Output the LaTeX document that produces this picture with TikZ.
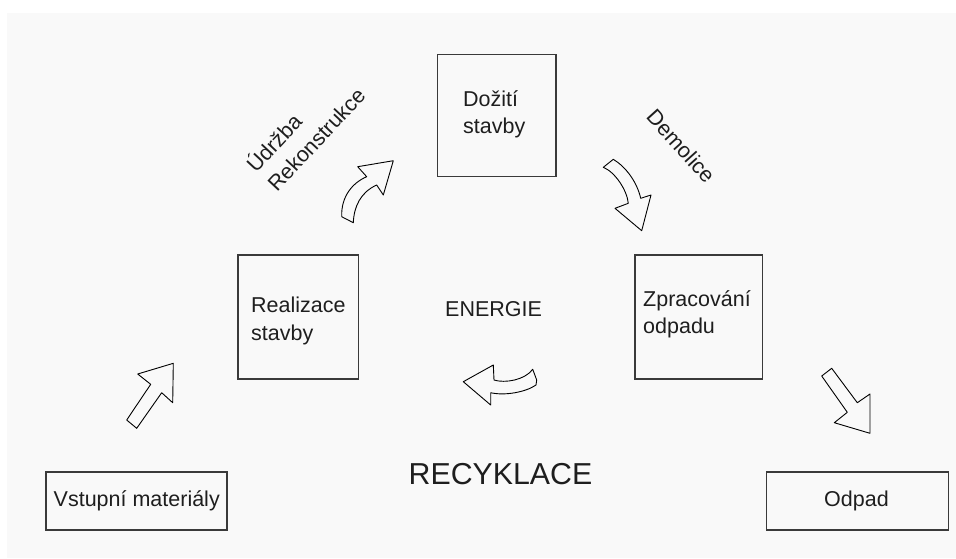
\documentclass[tikz,border=0pt]{standalone}
\usepackage{fontspec}
\setmainfont{Liberation Sans}
\definecolor{bg}{HTML}{F9F9F9}
\definecolor{boxc}{HTML}{3A3A3A}
\definecolor{txt}{HTML}{1E1E1E}
\begin{document}
\begin{tikzpicture}[x=1pt,y=-1pt,
  box/.style={draw=boxc, line width=1.3pt, inner sep=0pt, outer sep=0pt, anchor=north west},
  lbl/.style={text=txt, inner sep=0pt, anchor=base west, font=\fontsize{21.5}{26}\selectfont},
  blockarrow/.style={draw=black, line width=0.9pt, line join=round}]
\useasboundingbox (0,0) rectangle (956,558);
\fill[white] (0,0) rectangle (956,558);
\fill[bg] (7,13) rectangle (956,558);

% boxes
\node[box, minimum width=118.5pt, minimum height=122pt] (doziti) at (437.5,54.5) {};
\node[box, minimum width=120.5pt, minimum height=124pt] (realizace) at (238,255) {};
\node[box, minimum width=127.5pt, minimum height=124pt] (zpracovani) at (635,255) {};
\node[box, minimum width=181pt, minimum height=58pt] (vstupni) at (46,472) {};
\node[box, minimum width=182pt, minimum height=58pt] (odpad) at (766.5,472) {};

% texts
\node[lbl] (dozA) at (463,106) {Dožití};
\node[lbl] (dozB) at (463,133) {stavby};
\node[lbl] (realA) at (251,312) {Realizace};
\node[lbl] (realB) at (251,340) {stavby};
\node[lbl] (zprA) at (643,306) {Zpracování};
\node[lbl] (zprB) at (643,333) {odpadu};
\node[lbl] (vst) at (53.5,506) {Vstupní materiály};
\node[lbl] (odp) at (824,506.5) {Odpad};
\node[lbl] (energie) at (445,316) {ENERGIE};
\node[lbl, font=\fontsize{30.3}{36}\selectfont] (recyk) at (408.5,484) {RECYKLACE};
\node[lbl, rotate=47] (udrz) at (256,174) {Údržba};
\node[lbl, rotate=47] (rekon) at (277,193) {Rekonstrukce};
\node[lbl, anchor=center, rotate=-48] (demol) at (681,146) {Demolice};

% block arrows
\draw[blockarrow] (126.7,420) -- (136.7,428.3) -- (161.7,392.7) -- (172.7,402.7) -- (173.3,363.3) -- (137.7,374) -- (150.7,384.3) -- cycle;
\draw[blockarrow] (821.7,376) -- (831.7,368.3) -- (857.3,402.7) -- (870,394) -- (870,433.3) -- (834.3,422.7) -- (847.3,412.3) -- cycle;
\draw[blockarrow] (341.7,216.7) -- (353.3,222.7) .. controls (354,206) and (361,192) .. (376.7,185) -- (383.3,195) -- (393.3,160.7) -- (357.7,166.7) -- (366.7,176.7) .. controls (352,183) and (341,197) .. (341.7,216.7) -- cycle;
\draw[blockarrow] (603.3,167.3) -- (613.3,159.3) .. controls (626,167) and (637,182) .. (640.7,198.3) -- (651,195) -- (641.7,230.7) -- (615,208.3) -- (628.3,203.3) .. controls (627,190) and (615,172) .. (603.3,167.3) -- cycle;
\draw[blockarrow] (463.3,381.7) -- (493.3,365) -- (494,380) .. controls (505,383.5) and (525,380) .. (532.7,369.3) -- (536.7,380) -- (536,385) .. controls (526,392) and (505,396) .. (490.7,392.7) -- (490.7,405) -- cycle;
\end{tikzpicture}
\end{document}
